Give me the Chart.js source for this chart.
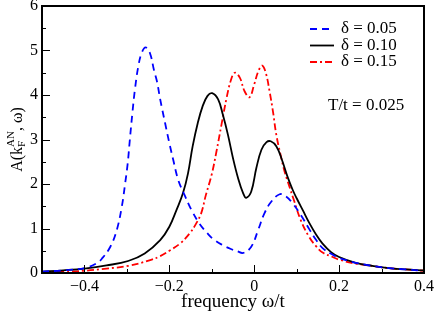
<!DOCTYPE html>
<html>
<head>
<meta charset="utf-8">
<script src="https://cdn.jsdelivr.net/npm/chart.js@4.4.0/dist/chart.umd.min.js"></script>
<style>
  html, body { margin: 0; padding: 0; background: #fff; }
  #wrap { width: 436px; height: 312px; position: relative; }
</style>
</head>
<body>
<div id="wrap"><canvas id="chart"></canvas></div>
<script>
// A(k_F^AN, w), one pair of arrays per doping
const omega005 = [-0.5, -0.45, -0.4, -0.371, -0.359, -0.339, -0.324, -0.312, -0.304, -0.298, -0.293, -0.287, -0.281, -0.273, -0.265, -0.256, -0.246, -0.236, -0.229, -0.2215, -0.21, -0.2, -0.191, -0.179, -0.164, -0.148, -0.129, -0.11, -0.095, -0.075, -0.055, -0.04, -0.026, -0.007, 0.009, 0.024, 0.04, 0.06, 0.075, 0.09, 0.11, 0.13, 0.146, 0.161, 0.185, 0.2, 0.239, 0.278, 0.317, 0.356, 0.4];
const spec005 = [0.03, 0.06, 0.11, 0.22, 0.32, 0.59, 0.96, 1.49, 2.02, 2.47, 3.0, 3.6, 4.13, 4.65, 4.95, 5.07, 4.95, 4.55, 4.3, 3.9, 3.37, 2.92, 2.55, 2.09, 1.75, 1.42, 1.11, 0.89, 0.75, 0.63, 0.54, 0.49, 0.45, 0.59, 0.96, 1.34, 1.6, 1.77, 1.72, 1.57, 1.3, 0.98, 0.74, 0.56, 0.41, 0.34, 0.23, 0.16, 0.11, 0.08, 0.05];

const omega010 = [-0.5, -0.45, -0.4, -0.348, -0.297, -0.258, -0.2215, -0.2, -0.183, -0.168, -0.156, -0.145, -0.133, -0.1215, -0.11, -0.099, -0.085, -0.074, -0.062, -0.05, -0.038, -0.026, -0.019, -0.007, 0.005, 0.017, 0.029, 0.039, 0.052, 0.064, 0.079, 0.091, 0.1, 0.115, 0.13, 0.146, 0.161, 0.181, 0.2, 0.239, 0.278, 0.317, 0.356, 0.4];
const spec010 = [0.03, 0.06, 0.1, 0.17, 0.27, 0.44, 0.74, 1.04, 1.42, 1.79, 2.24, 2.85, 3.37, 3.75, 3.98, 4.04, 3.9, 3.56, 3.11, 2.58, 2.13, 1.79, 1.69, 1.83, 2.36, 2.77, 2.94, 2.96, 2.85, 2.58, 2.15, 1.86, 1.68, 1.4, 1.12, 0.86, 0.66, 0.47, 0.36, 0.23, 0.16, 0.11, 0.08, 0.06];

const omega015 = [-0.5, -0.45, -0.4, -0.348, -0.297, -0.245, -0.2215, -0.2, -0.175, -0.152, -0.137, -0.125, -0.114, -0.1, -0.089, -0.077, -0.065, -0.055, -0.046, -0.034, -0.023, -0.011, 0.0, 0.01, 0.019, 0.028, 0.036, 0.044, 0.052, 0.062, 0.071, 0.083, 0.093, 0.11, 0.13, 0.146, 0.161, 0.185, 0.2, 0.239, 0.278, 0.317, 0.356, 0.4];
const spec015 = [0.02, 0.03, 0.05, 0.1, 0.16, 0.29, 0.38, 0.5, 0.66, 0.89, 1.11, 1.34, 1.75, 2.22, 2.73, 3.34, 3.94, 4.33, 4.5, 4.39, 4.09, 3.95, 4.24, 4.54, 4.66, 4.47, 4.09, 3.64, 3.11, 2.66, 2.3, 1.94, 1.65, 1.18, 0.8, 0.6, 0.46, 0.36, 0.3, 0.21, 0.16, 0.11, 0.08, 0.05];

const seriesLabels = ['δ = 0.05', 'δ = 0.10', 'δ = 0.15'];
const xTickValues = [-0.4, -0.2, 0, 0.2, 0.4];
const xTickLabels = ['−0.4', '−0.2', '0', '0.2', '0.4'];
const yTickValues = [0, 1, 2, 3, 4, 5, 6];
const noteText = 'T/t = 0.025';

const serif = "'Liberation Serif', 'DejaVu Serif', serif";

function toPoints(xs, ys) {
    return xs.map((x, i) => ({ x: x, y: ys[i] }));
}

// frame + inward tick marks, like the original plot
const frameTicks = {
    id: 'frameTicks',
    afterDraw(chart) {
        const { ctx, chartArea: a, scales } = chart;
        ctx.save();
        ctx.strokeStyle = '#000';
        ctx.lineWidth = 1;
        ctx.beginPath();
        scales.x.ticks.forEach(t => {
            const px = Math.round(scales.x.getPixelForValue(t.value)) + 0.5;
            const len = t.label ? 8 : 4;
            ctx.moveTo(px, a.bottom);
            ctx.lineTo(px, a.bottom - len);
        });
        scales.y.ticks.forEach(t => {
            const py = Math.round(scales.y.getPixelForValue(t.value)) + 0.5;
            const len = t.label ? 8 : 4;
            ctx.moveTo(a.left, py);
            ctx.lineTo(a.left + len, py);
        });
        ctx.stroke();
        ctx.lineWidth = 2;
        ctx.strokeRect(a.left, a.top, a.right - a.left, a.bottom - a.top);
        ctx.restore();
    }
};

// legend inside the plot and the T/t note
const innerLegend = {
    id: 'innerLegend',
    afterDraw(chart) {
        const ctx = chart.ctx;
        ctx.save();
        ctx.font = '17px ' + serif;
        ctx.textBaseline = 'middle';
        ctx.fillStyle = '#000';
        chart.data.datasets.forEach((ds, i) => {
            const y = 29 + i * 16.5;
            ctx.strokeStyle = ds.borderColor;
            ctx.lineWidth = ds.borderWidth;
            ctx.setLineDash(ds.borderDash || []);
            ctx.beginPath();
            ctx.moveTo(310, y);
            ctx.lineTo(334, y);
            ctx.stroke();
            ctx.fillText(ds.label, 341, y);
        });
        ctx.setLineDash([]);
        ctx.fillText(noteText, 328, 106);
        ctx.restore();
    }
};

// y title A(k_F^AN, w) with sub/superscript
const yTitle = {
    id: 'yTitle',
    afterDraw(chart) {
        const ctx = chart.ctx;
        const a = chart.chartArea;
        const big = '16px ' + serif, small = '11px ' + serif;
        ctx.save();
        ctx.fillStyle = '#000';
        ctx.textBaseline = 'alphabetic';
        ctx.font = big;
        const w1 = ctx.measureText('A(k').width;
        const w3 = ctx.measureText(', ω)').width;
        ctx.font = small;
        const w2 = Math.max(ctx.measureText('F').width, ctx.measureText('AN').width);
        const total = w1 + w2 + w3;
        ctx.translate(22, (a.top + a.bottom) / 2);
        ctx.rotate(-Math.PI / 2);
        let x = -total / 2;
        ctx.font = big;
        ctx.fillText('A(k', x, 0);
        x += w1;
        ctx.font = small;
        ctx.fillText('F', x, 3);
        ctx.fillText('AN', x, -8);
        x += w2;
        ctx.font = big;
        ctx.fillText(', ω)', x, 0);
        ctx.restore();
    }
};

const ctx = document.getElementById('chart');
new Chart(ctx, {
    type: 'line',
    data: {
        datasets: [
            {
                label: seriesLabels[0],
                data: toPoints(omega005, spec005),
                borderColor: '#0000ff',
                borderWidth: 1.8,
                borderDash: [7, 5]
            },
            {
                label: seriesLabels[1],
                data: toPoints(omega010, spec010),
                borderColor: '#000000',
                borderWidth: 1.8
            },
            {
                label: seriesLabels[2],
                data: toPoints(omega015, spec015),
                borderColor: '#ff0000',
                borderWidth: 1.8,
                borderDash: [7, 3, 2, 3]
            }
        ]
    },
    options: {
        responsive: true,
        maintainAspectRatio: false,
        animation: false,
        layout: { padding: { top: 6, right: 12, left: 0, bottom: 0 } },
        elements: {
            point: { radius: 0 },
            line: { tension: 0.4, fill: false }
        },
        plugins: {
            legend: { display: false },
            tooltip: { enabled: false }
        },
        scales: {
            x: {
                type: 'linear',
                min: -0.5,
                max: 0.4,
                grid: { display: false, drawTicks: false },
                border: { display: false },
                ticks: {
                    stepSize: 0.1,
                    autoSkip: false,
                    maxRotation: 0,
                    padding: 4,
                    color: '#000',
                    font: { family: serif, size: 16 },
                    callback: function(value) {
                        const i = xTickValues.findIndex(v => Math.abs(v - value) < 1e-6);
                        return i >= 0 ? xTickLabels[i] : '';
                    }
                },
                title: {
                    display: true,
                    text: 'frequency ω/t',
                    color: '#000',
                    font: { family: serif, size: 19, lineHeight: 1 },
                    padding: 0
                },
                afterFit: function(scale) {
                    scale.height = 39;
                    scale.paddingLeft = 0;
                    scale.paddingRight = 0;
                }
            },
            y: {
                min: 0,
                max: 6,
                grid: { display: false, drawTicks: false },
                border: { display: false },
                ticks: {
                    stepSize: 0.5,
                    autoSkip: false,
                    padding: 4,
                    color: '#000',
                    font: { family: serif, size: 16 },
                    callback: function(value) {
                        return yTickValues.includes(value) ? String(value) : '';
                    }
                },
                afterFit: function(scale) {
                    scale.width = 42;
                    scale.paddingTop = 0;
                    scale.paddingBottom = 0;
                }
            }
        }
    },
    plugins: [frameTicks, innerLegend, yTitle]
});
</script>
</body>
</html>
